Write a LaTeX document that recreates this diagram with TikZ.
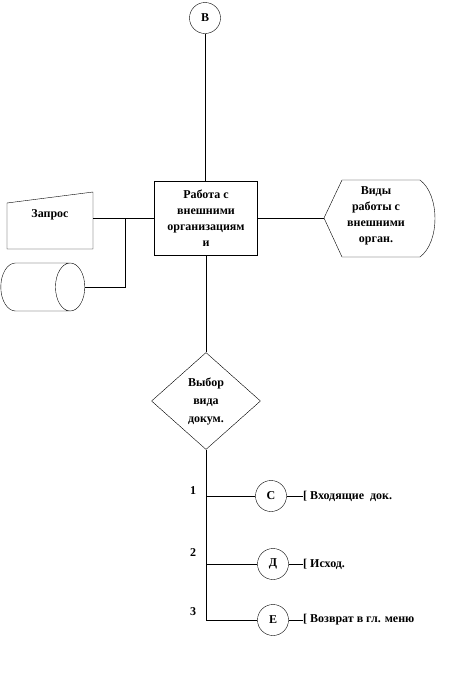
\documentclass[tikz,border=0pt]{standalone}
\usepackage{fontspec}
\setmainfont{Liberation Serif}
\usetikzlibrary{shapes.geometric}

\begin{document}
\begin{tikzpicture}[x=1pt, y=-1pt, >=stealth,
  txt/.style={font=\bfseries\fontsize{12}{16}\selectfont, align=center},
  krug/.style={draw, circle, minimum size=31pt, inner sep=0pt, txt},
  punkt/.style={txt, anchor=west, inner sep=0pt}]
\useasboundingbox (0,0) rectangle (474,675);

\node[krug] (b) at (205,18) {В};
\node[draw, rectangle, minimum width=103pt, minimum height=74pt, inner sep=1pt, txt] (rab) at (206,218) {Работа с\\внешними\\организациям\\и};

% zapros
\draw (7,203) -- (93,192) -- (93,249) -- (7,249) -- cycle;
\node[txt] (zap) at (50,215) {Запрос};
\coordinate (zapR) at (93,218);
\node[draw, cylinder, minimum width=48pt, minimum height=84pt, aspect=4.4, anchor=east] (baza) at (85,287) {};
\coordinate (uzel) at (125,218);

% vidy raboty
\draw (324,218) -- (342,180) -- (420,180) .. controls (440,195) and (440,242) .. (420,257) -- (342,257) -- cycle;
\coordinate (vidL) at (324,218);
\node[txt] (vid) at (376,216) {Виды\\работы с\\внешними\\орган.};

\node[draw, diamond, minimum width=109pt, minimum height=97pt, inner sep=0pt, txt, font=\bfseries\fontsize{12}{18}\selectfont] (vyb) at (206,401) {Выбор\\вида\\докум.};

\draw (b) -- (b |- rab.north);
\draw (rab.west) -- (zapR);
\draw (baza.east) -| (uzel);
\draw (rab.east) -- (vidL);
\draw (rab) -- (vyb);

% vetki
\coordinate (v1) at (206,496);
\coordinate (v2) at (206,564);
\coordinate (v3) at (206,620);
\draw (vyb.south) -- (v3);

\node[txt] (n1) at (193,491) {1};
\node[txt] (n2) at (193,553) {2};
\node[txt] (n3) at (193,612) {3};

\node[krug] (c1) at (271,496) {С};
\node[krug] (c2) at (273,564) {Д};
\node[krug] (c3) at (273,620) {Е};

\node[punkt] (t1) at (303,496) {[ Входящие\ \ док.};
\node[punkt] (t2) at (303,564) {[ Исход.};
\node[punkt] (t3) at (303,620) {[ Возврат в гл. меню};

\draw (v1) -- (c1);
\draw (v2) -- (c2);
\draw (v3) -- (c3);
\draw (c1) -- (t1);
\draw (c2) -- (t2);
\draw (c3) -- (t3);
\end{tikzpicture}
\end{document}
